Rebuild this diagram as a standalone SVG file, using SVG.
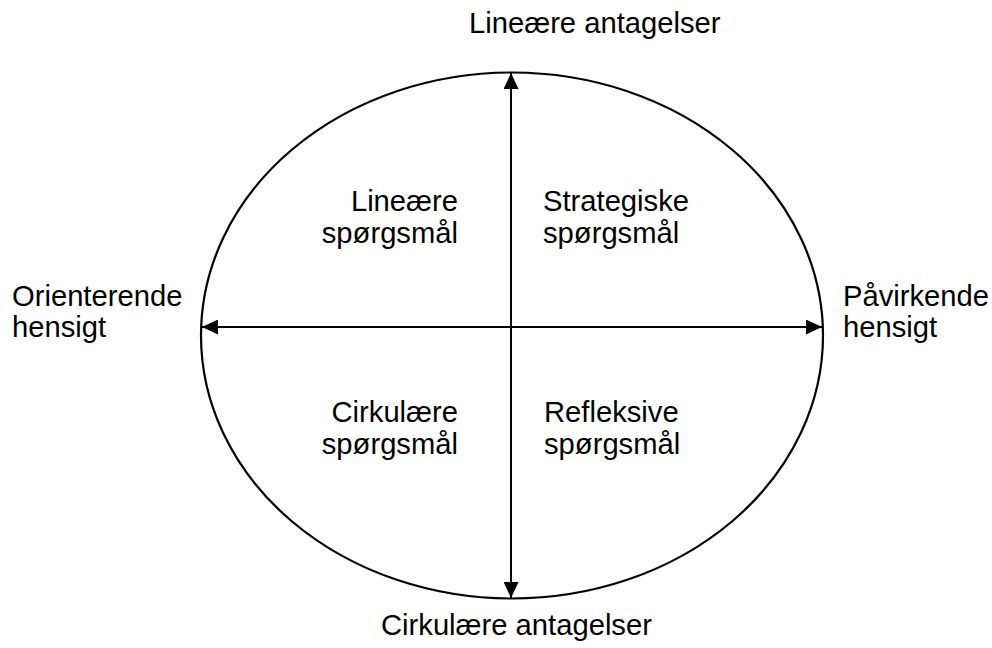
<svg xmlns="http://www.w3.org/2000/svg" width="992" height="648" viewBox="0 0 992 648">
<style>
text{font-family:"Liberation Sans",Arial,sans-serif;font-size:29.2px;fill:#000}
.ax{stroke:#000;stroke-width:2;fill:none}
</style>
<defs>
<marker id="ah" markerUnits="userSpaceOnUse" markerWidth="16" markerHeight="15" refX="16" refY="7.5" orient="auto-start-reverse" viewBox="0 0 16 15">
<path d="M0,0 L16,7.5 L0,15 z" fill="#000"/>
</marker>
</defs>
<g id="ellipse"><ellipse cx="512" cy="335.5" rx="311" ry="263" fill="none" stroke="#000" stroke-width="2.2"/></g>
<g id="connectors">
<line class="ax" x1="511" y1="73" x2="511" y2="598" marker-start="url(#ah)" marker-end="url(#ah)"/>
<line class="ax" x1="202" y1="327" x2="822" y2="327" marker-start="url(#ah)" marker-end="url(#ah)"/>
</g>
<g id="top"><text x="469" y="33">Lineære antagelser</text></g>
<g id="bottom"><text x="381" y="635">Cirkulære antagelser</text></g>
<g id="left"><text x="12" y="306">Orienterende</text><text x="12" y="337">hensigt</text></g>
<g id="right"><text x="843" y="306">Påvirkende</text><text x="843" y="337">hensigt</text></g>
<g id="q1"><text x="458" y="211" text-anchor="end">Lineære</text><text x="458" y="243" text-anchor="end">spørgsmål</text></g>
<g id="q2"><text x="543" y="211">Strategiske</text><text x="543" y="243">spørgsmål</text></g>
<g id="q3"><text x="458" y="422" text-anchor="end">Cirkulære</text><text x="458" y="454" text-anchor="end">spørgsmål</text></g>
<g id="q4"><text x="544" y="422">Refleksive</text><text x="544" y="454">spørgsmål</text></g>
</svg>
